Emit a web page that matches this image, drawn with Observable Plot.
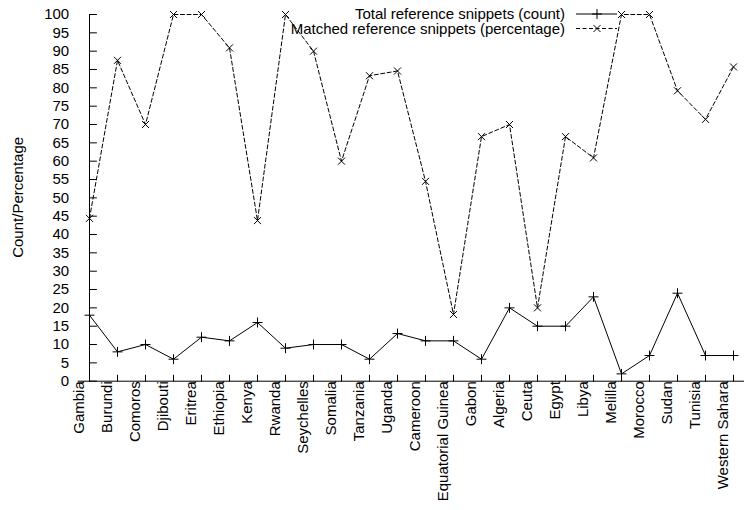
<!DOCTYPE html>
<html>
<head>
<meta charset="utf-8">
<script src="https://cdn.jsdelivr.net/npm/d3@7"></script>
<script src="https://cdn.jsdelivr.net/npm/@observablehq/plot@0.6"></script>
<style>
  html, body { margin: 0; padding: 0; background: #fff; }
  #chart svg { display: block; }
</style>
</head>
<body>
<div id="chart"></div>
<script>
const countries = ["Gambia","Burundi","Comoros","Djibouti","Eritrea","Ethiopia","Kenya","Rwanda","Seychelles","Somalia","Tanzania","Uganda","Cameroon","Equatorial Guinea","Gabon","Algeria","Ceuta","Egypt","Libya","Melilla","Morocco","Sudan","Tunisia","Western Sahara"];
const counts = [18,8,10,6,12,11,16,9,10,10,6,13,11,11,6,20,15,15,23,2,7,24,7,7];
const percentages = [44.4,87.5,70,100,100,90.9,43.8,100,90,60,83.3,84.6,54.5,18.2,66.7,70,20,66.7,60.9,100,100,79.2,71.4,85.7];
const yTicks = d3.range(0, 101, 5);
const seriesNames = ["Total reference snippets (count)", "Matched reference snippets (percentage)"];
const yLabel = "Count/Percentage";

const countData = countries.map((c, i) => ({country: c, value: counts[i]}));
const pctData = countries.map((c, i) => ({country: c, value: percentages[i]}));

const FS = 15;
const FONT = "'Liberation Sans', Arial, Helvetica, sans-serif";
const tickShape = {draw(context, l) { context.moveTo(0, 0); context.lineTo(0, -l); }};
const DASH = "4,2.5";

function legendMark(index, scales, values, dimensions) {
  const svg = d3.create("svg:g");
  const textRight = 565, x1 = 576, x2 = 617, xm = 597;
  const rows = [
    {y: 14, dash: null, symbol: d3.symbolPlus},
    {y: 28.5, dash: DASH, symbol: d3.symbolTimes}
  ];
  rows.forEach((r, i) => {
    svg.append("text")
      .attr("x", textRight).attr("y", r.y).attr("dy", "0.36em")
      .attr("text-anchor", "end")
      .attr("font-family", FONT).attr("font-size", FS).attr("fill", "#000")
      .text(seriesNames[i]);
    svg.append("line")
      .attr("x1", x1).attr("x2", x2).attr("y1", r.y).attr("y2", r.y)
      .attr("stroke", "#000").attr("stroke-width", 1)
      .attr("stroke-dasharray", r.dash);
    svg.append("path")
      .attr("transform", `translate(${xm},${r.y})`)
      .attr("d", d3.symbol(r.symbol, Math.PI * 3.3 * 3.3)())
      .attr("fill", "none").attr("stroke", "#000").attr("stroke-width", 1);
  });
  return svg.node();
}

function yLabelMark(index, scales, values, dimensions) {
  const {marginTop, marginBottom, height} = dimensions;
  const cy = (marginTop + height - marginBottom) / 2;
  return d3.create("svg:text")
    .attr("transform", `translate(17.5,${cy}) rotate(-90)`)
    .attr("dy", "0.36em")
    .attr("text-anchor", "middle")
    .attr("font-family", FONT).attr("font-size", FS).attr("fill", "#000")
    .text(yLabel).node();
}

const chart = Plot.plot({
  width: 748,
  height: 510,
  marginTop: 14,
  marginBottom: 129.3,
  marginLeft: 77.7,
  marginRight: 4,
  style: {fontFamily: FONT, fontSize: FS + "px", color: "#000", background: "#fff"},
  x: {type: "point", domain: countries, padding: 0, axis: null},
  y: {domain: [0, 100]},
  marks: [
    // axis lines
    Plot.ruleY([0], {stroke: "#000", strokeWidth: 1}),
    Plot.ruleX([countries[0]], {stroke: "#000", strokeWidth: 1}),
    // inward ticks
    Plot.vector(yTicks, {x: () => countries[0], y: d => d, length: 7, rotate: 90, anchor: "start", shape: tickShape, stroke: "#000", strokeWidth: 1}),
    Plot.vector(countries, {x: d => d, y: () => 0, length: 6, rotate: 0, anchor: "start", shape: tickShape, stroke: "#000", strokeWidth: 1}),
    // y tick labels
    Plot.axisY({ticks: yTicks, tickSize: 0, tickPadding: 9, label: null, fontSize: FS}),
    // x labels
    Plot.text(countries, {x: d => d, text: d => d, frameAnchor: "bottom", dx: -10, rotate: -90, textAnchor: "end", lineAnchor: "middle", fontSize: FS, fill: "#000"}),
    // y label
    yLabelMark,
    // series
    Plot.line(countData, {x: "country", y: "value", stroke: "#000", strokeWidth: 1}),
    Plot.dot(countData, {x: "country", y: "value", symbol: "plus", r: 3.3, stroke: "#000", strokeWidth: 1}),
    Plot.line(pctData, {x: "country", y: "value", stroke: "#000", strokeWidth: 1, strokeDasharray: DASH}),
    Plot.dot(pctData, {x: "country", y: "value", symbol: "times", r: 3.3, stroke: "#000", strokeWidth: 1}),
    legendMark
  ]
});
document.getElementById("chart").appendChild(chart);
</script>
</body>
</html>
